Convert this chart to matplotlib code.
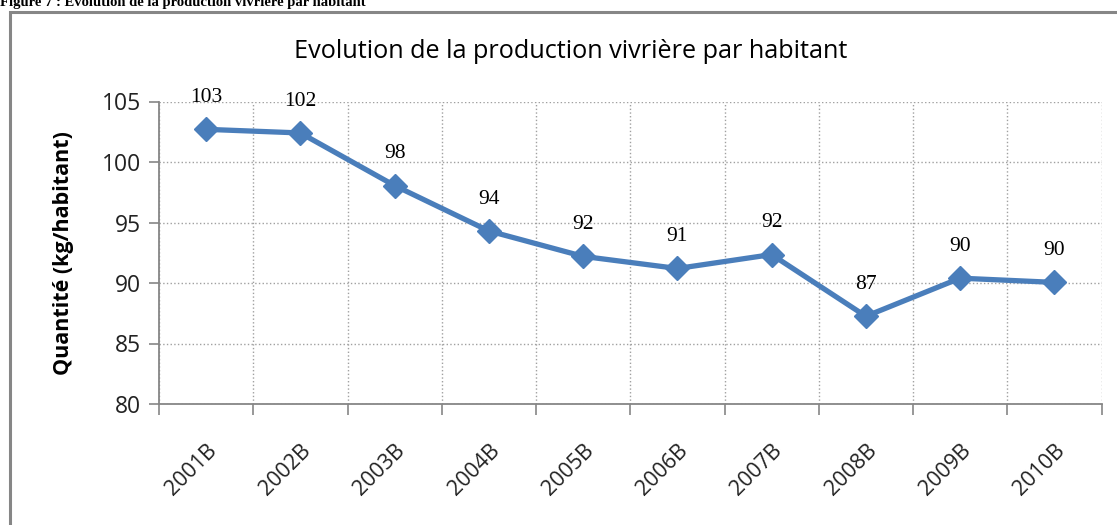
import matplotlib.pyplot as plt
from matplotlib.patches import Rectangle
import numpy as np

# donnees
annees = ['2001B', '2002B', '2003B', '2004B', '2005B',
          '2006B', '2007B', '2008B', '2009B', '2010B']
production = [102.7, 102.4, 98.05, 94.3, 92.2, 91.2, 92.35, 87.25, 90.4, 90.05]
etiquettes = ['103', '102', '98', '94', '92', '91', '92', '87', '90', '90']
yticks = [80, 85, 90, 95, 100, 105]

bleu = '#4a7ebb'
gris = '#868686'
sans = ['Open Sans', 'DejaVu Sans']

fig = plt.figure(figsize=(11.17, 5.25), dpi=100)

# cadre du graphique (coupe a droite et en bas)
fig.patches.append(Rectangle((10 / 1117, -0.2), 1.2, 1 - 12 / 525 + 0.2,
                             transform=fig.transFigure, fill=False,
                             edgecolor=gris, linewidth=2.2, zorder=0))

# legende de la figure, coupee en haut
fig.text(0.0, 1 - 6 / 525, 'Figure 7 : Evolution de la production vivrière par habitant',
         family='Liberation Serif', weight='bold', fontsize=10.5,
         ha='left', va='baseline')

ax = fig.add_axes([159 / 1117, 1 - 404 / 525, (1101.5 - 159) / 1117, (404 - 101.5) / 525])

x = np.arange(len(annees))
ax.plot(x, production, color=bleu, linewidth=3.8, marker='D',
        markersize=12, markeredgecolor=bleu, zorder=3, clip_on=False)

for xi, yi, lab in zip(x, production, etiquettes):
    ax.annotate(lab, (xi, yi), xytext=(0, 23), textcoords='offset points',
                ha='center', va='center', family='Liberation Serif',
                fontsize=15.5, color='black')

ax.set_xlim(-0.5, len(annees) - 0.5)
ax.set_ylim(80, 105)
ax.set_yticks(yticks)
ax.set_yticklabels([str(v) for v in yticks], family=sans, fontsize=16.5, color='#222222')

ax.set_xticks(x)
ax.set_xticklabels(annees, family=sans, fontsize=15.5, rotation=45,
                   ha='right', rotation_mode='anchor', color='#222222')
ax.set_xticks(np.arange(-0.5, len(annees)), minor=True)
ax.tick_params(axis='x', which='major', length=0, pad=26)
ax.tick_params(axis='x', which='minor', length=8, width=1.2, color=gris, direction='out')
ax.tick_params(axis='y', length=7, width=1.2, color=gris, pad=6)

ax.grid(True, which='minor', axis='x', linestyle=':', color='#a0a0a0', linewidth=1)
ax.grid(True, which='major', axis='y', linestyle=':', color='#a0a0a0', linewidth=1)
ax.set_axisbelow(True)

for s in ['top', 'right']:
    ax.spines[s].set_visible(False)
for s in ['left', 'bottom']:
    ax.spines[s].set_color(gris)
    ax.spines[s].set_linewidth(1.3)

ax.set_ylabel('Quantité (kg/habitant)', family=sans, fontsize=15.5, weight='bold')
ax.yaxis.set_label_coords(-0.09, 0.5)

fig.text(571 / 1117, 1 - 52 / 525, 'Evolution de la production vivrière par habitant',
         family=sans, fontsize=18.2, ha='center', va='center', color='black')

plt.savefig('out.png', dpi=100)
